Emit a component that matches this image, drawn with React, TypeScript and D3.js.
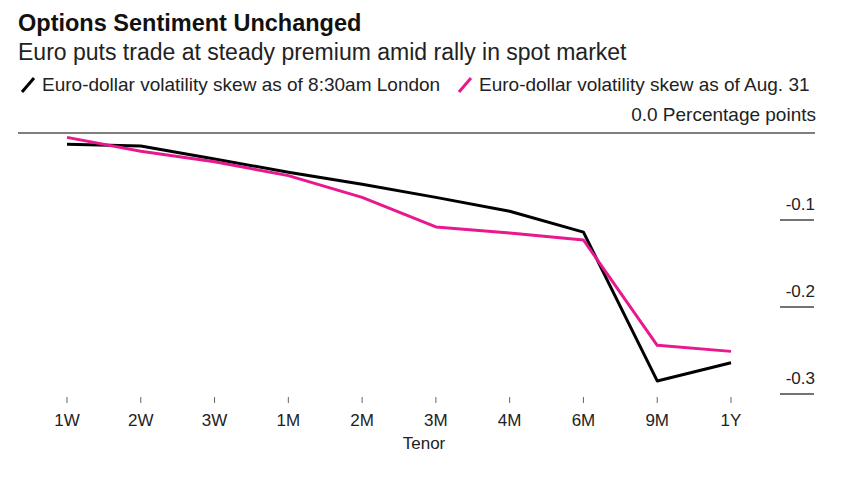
import { useEffect, useRef } from "react";
import * as d3 from "d3";

const tenors = ["1W", "2W", "3W", "1M", "2M", "3M", "4M", "6M", "9M", "1Y"];
const skewToday = [-0.013, -0.015, -0.03, -0.045, -0.059, -0.074, -0.09, -0.114, -0.285, -0.264];
const skewAug31 = [-0.005, -0.021, -0.033, -0.049, -0.074, -0.108, -0.115, -0.123, -0.244, -0.251];
const yTicks = [0, -0.1, -0.2, -0.3];

const PINK = "#e8198f";
const FONT = "'Liberation Sans', Arial, sans-serif";

const App = () => {
  const svgRef = useRef<SVGSVGElement | null>(null);

  useEffect(() => {
    const svg = d3.select(svgRef.current);
    svg.selectAll("*").remove();

    const x = d3.scalePoint<string>().domain(tenors).range([67, 731]);
    const y = d3.scaleLinear().domain([0, -0.3]).range([133, 394]);
    const fmt = (v: number) => d3.format(".1f")(v).replace("\u2212", "-");

    // header
    svg.append("text").attr("x", 18).attr("y", 31).attr("font-size", 23.5)
      .attr("font-weight", "bold").attr("fill", "#111").text("Options Sentiment Unchanged");
    svg.append("text").attr("x", 18).attr("y", 60).attr("font-size", 23)
      .attr("fill", "#222").text("Euro puts trade at steady premium amid rally in spot market");

    // legend
    const legend = [
      { label: "Euro-dollar volatility skew as of 8:30am London", color: "#000", x: 22 },
      { label: "Euro-dollar volatility skew as of Aug. 31", color: PINK, x: 459 },
    ];
    legend.forEach((d) => {
      svg.append("line").attr("x1", d.x).attr("y1", 92).attr("x2", d.x + 12).attr("y2", 78)
        .attr("stroke", d.color).attr("stroke-width", 3);
      svg.append("text").attr("x", d.x + 20).attr("y", 91).attr("font-size", 19)
        .attr("fill", "#222").text(d.label);
    });

    // y axis on the right
    svg.append("line").attr("x1", 18).attr("x2", 815).attr("y1", y(0)).attr("y2", y(0))
      .attr("stroke", "#555").attr("stroke-width", 1.5);
    svg.append("text").attr("x", 816).attr("y", 121).attr("font-size", 19)
      .attr("text-anchor", "end").attr("fill", "#222").text(`${fmt(0)} Percentage points`);
    yTicks.slice(1).forEach((t) => {
      svg.append("line").attr("x1", 780).attr("x2", 814).attr("y1", y(t)).attr("y2", y(t))
        .attr("stroke", "#444").attr("stroke-width", 1.5);
      svg.append("text").attr("x", 815).attr("y", y(t) - 10).attr("font-size", 17)
        .attr("text-anchor", "end").attr("fill", "#222").text(fmt(t));
    });

    // x axis
    tenors.forEach((t) => {
      svg.append("line").attr("x1", x(t)!).attr("x2", x(t)!).attr("y1", 397).attr("y2", 403)
        .attr("stroke", "#666").attr("stroke-width", 1);
      svg.append("text").attr("x", x(t)!).attr("y", 426).attr("font-size", 17)
        .attr("text-anchor", "middle").attr("fill", "#222").text(t);
    });
    svg.append("text").attr("x", 424).attr("y", 449).attr("font-size", 17)
      .attr("text-anchor", "middle").attr("fill", "#222").text("Tenor");

    const line = d3.line<number>()
      .x((_, i) => x(tenors[i])!)
      .y((d) => y(d));

    [
      { data: skewToday, color: "#000" },
      { data: skewAug31, color: PINK },
    ].forEach((s) => {
      svg.append("path").datum(s.data).attr("fill", "none").attr("stroke", s.color)
        .attr("stroke-width", 3).attr("stroke-linejoin", "round").attr("d", line);
    });
  }, []);

  return (
    <svg
      ref={svgRef}
      width={868}
      height={486}
      viewBox="0 0 868 486"
      style={{ position: "absolute", top: 0, left: 0, background: "#fff", fontFamily: FONT }}
    />
  );
};

export default App;
